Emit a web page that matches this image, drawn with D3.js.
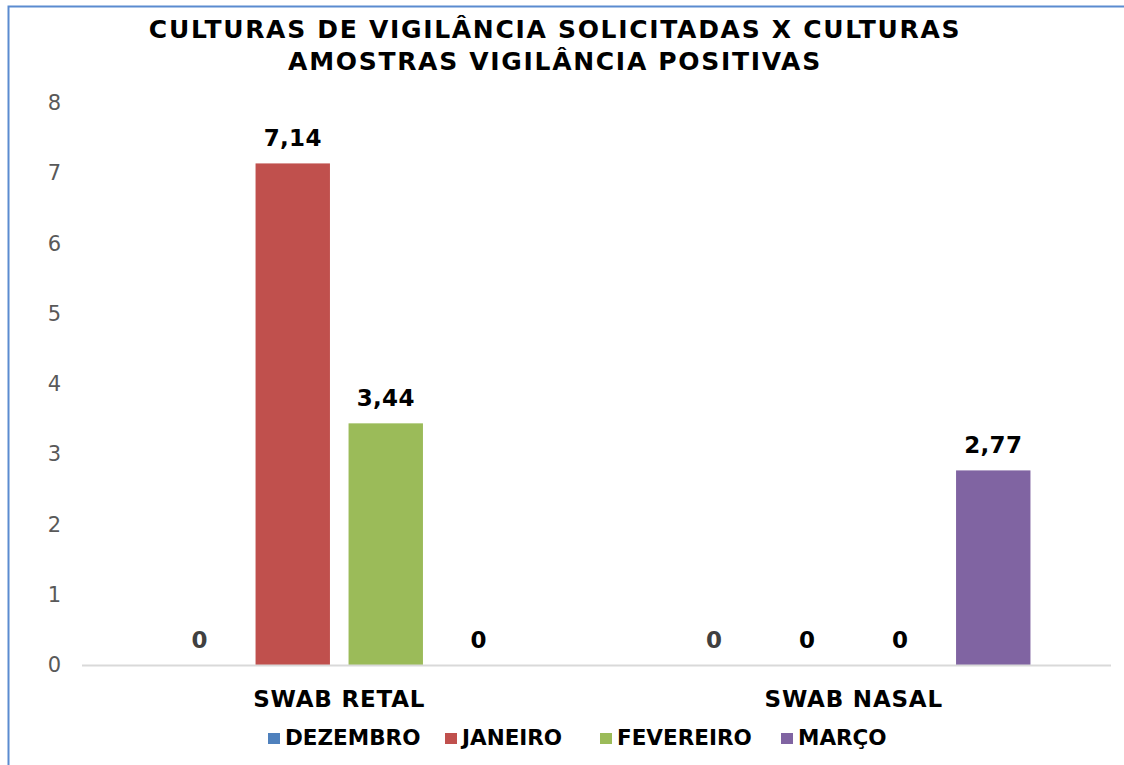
<!DOCTYPE html>
<html lang="pt">
<head>
<meta charset="UTF-8">
<title>Culturas de vigilância</title>
<script src="https://cdnjs.cloudflare.com/ajax/libs/d3/7.8.5/d3.min.js"></script>
<style>
    html, body { margin: 0; padding: 0; background: #fff; overflow: hidden; }
    svg { display: block; font-family: "DejaVu Sans", Verdana, sans-serif; }
</style>
</head>
<body>
<svg id="chart" width="1124" height="765"></svg>
<script>
    const categories = ['SWAB RETAL', 'SWAB NASAL'];
    const series = ['DEZEMBRO', 'JANEIRO', 'FEVEREIRO', 'MARÇO'];
    const colors = ['#4F81BD', '#C0504D', '#9BBB59', '#8064A2'];
    // values per month, one entry per category
    const dezembro = [0, 0];
    const janeiro = [7.14, 0];
    const fevereiro = [3.44, 0];
    const marco = [0, 2.77];
    const labels = [['0', '0'], ['7,14', '0'], ['3,44', '0'], ['0', '2,77']];
    const yTicks = [0, 1, 2, 3, 4, 5, 6, 7, 8];

    const values = [dezembro, janeiro, fevereiro, marco];
    const data = [];
    categories.forEach((c, ci) => {
        series.forEach((s, si) => {
            data.push({ cat: c, serie: s, si: si, value: values[si][ci], label: labels[si][ci] });
        });
    });

    const svg = d3.select('#chart');
    const margin = { left: 82, right: 13, top: 103, bottom: 100 };
    const width = 1124, height = 765;

    // outer chart border
    svg.append('rect')
        .attr('x', 8.5).attr('y', 6.5)
        .attr('width', 1200).attr('height', 900)
        .attr('fill', '#fff')
        .attr('stroke', '#5B8BD0').attr('stroke-width', 2);

    const x0 = d3.scaleBand().domain(categories).range([margin.left, width - margin.right]).padding(0);
    const x1 = d3.scaleBand().domain(series).range([0, x0.bandwidth()])
        .paddingInner(0.2).paddingOuter(0.866);
    const y = d3.scaleLinear().domain([0, 8]).range([665, 103]);

    // title
    const title = svg.append('text')
        .attr('text-anchor', 'middle')
        .attr('font-weight', 'bold').attr('font-size', 25)
        .attr('letter-spacing', 1.7).attr('fill', '#000');
    title.append('tspan').attr('x', 555).attr('y', 38).text('CULTURAS DE VIGILÂNCIA SOLICITADAS X CULTURAS');
    title.append('tspan').attr('x', 555).attr('y', 70).text('AMOSTRAS VIGILÂNCIA POSITIVAS');

    // y axis (labels only)
    const yAxis = svg.append('g')
        .attr('transform', `translate(${margin.left - 21},0)`)
        .call(d3.axisLeft(y).tickValues(yTicks).tickSize(0).tickPadding(0));
    yAxis.select('.domain').remove();
    yAxis.selectAll('text')
        .attr('font-family', '"DejaVu Sans", Verdana, sans-serif')
        .attr('font-size', 21).attr('fill', '#595959');

    // bars
    svg.append('g').selectAll('rect').data(data).enter().append('rect')
        .attr('x', d => x0(d.cat) + x1(d.serie))
        .attr('y', d => y(d.value))
        .attr('width', x1.bandwidth())
        .attr('height', d => y(0) - y(d.value))
        .attr('fill', d => colors[d.si]);

    // baseline
    svg.append('line')
        .attr('x1', margin.left).attr('x2', width - margin.right)
        .attr('y1', y(0) + 0.5).attr('y2', y(0) + 0.5)
        .attr('stroke', '#D9D9D9').attr('stroke-width', 2);

    // data labels
    svg.append('g').selectAll('text').data(data).enter().append('text')
        .attr('x', d => x0(d.cat) + x1(d.serie) + x1.bandwidth() / 2)
        .attr('y', d => y(d.value) - 17)
        .attr('text-anchor', 'middle')
        .attr('font-weight', 'bold').attr('font-size', 23).attr('letter-spacing', 0.3)
        .attr('fill', d => d.si === 0 ? '#404040' : '#000')
        .text(d => d.label);

    // category labels
    svg.append('g').selectAll('text').data(categories).enter().append('text')
        .attr('x', d => x0(d) + x0.bandwidth() / 2)
        .attr('y', 707)
        .attr('text-anchor', 'middle')
        .attr('font-weight', 'bold').attr('font-size', 23).attr('letter-spacing', 0.8)
        .attr('fill', '#000')
        .text(d => d);

    // legend
    const legendX = [268, 445, 600, 781];
    const legend = svg.append('g').selectAll('g').data(series).enter().append('g')
        .attr('transform', (d, i) => `translate(${legendX[i]},733)`);
    legend.append('rect').attr('width', 12).attr('height', 11).attr('fill', (d, i) => colors[i]);
    legend.append('text')
        .attr('x', 17).attr('y', 12)
        .attr('font-weight', 'bold').attr('font-size', 21.5)
        .attr('fill', '#000')
        .text(d => d);
</script>
</body>
</html>
